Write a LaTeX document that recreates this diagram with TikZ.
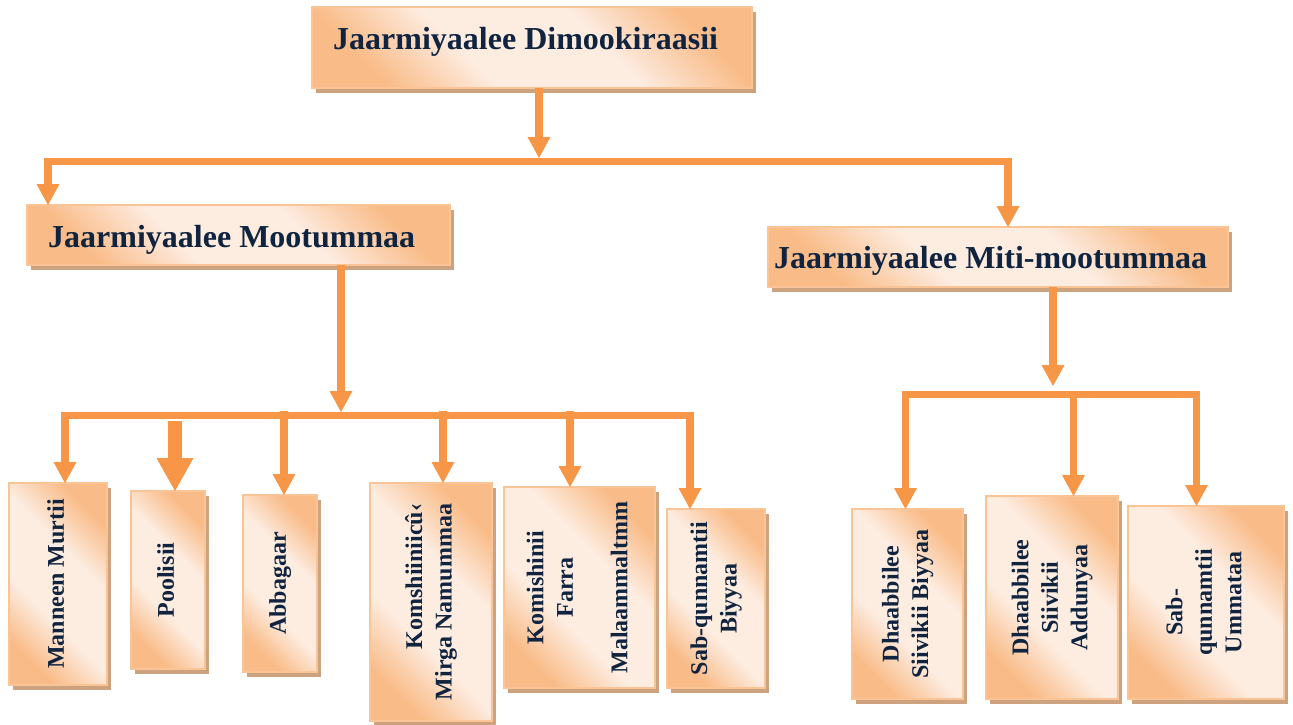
\documentclass[tikz,border=0pt]{standalone}
\usepackage{fontspec}
\setmainfont{Liberation Serif}
\usetikzlibrary{arrows.meta,shadows}
\definecolor{lineC}{RGB}{247,150,70}
\definecolor{borderC}{RGB}{250,196,150}
\definecolor{orangeF}{RGB}{249,187,135}
\definecolor{lightF}{RGB}{253,236,224}
\definecolor{shadowC}{RGB}{204,163,126}
\definecolor{textC}{RGB}{16,36,64}
\pgfdeclareverticalshading{boxshade}{100bp}{color(0bp)=(orangeF); color(25bp)=(orangeF); color(40bp)=(lightF); color(60bp)=(lightF); color(75bp)=(orangeF); color(100bp)=(orangeF)}
\newcommand{\vlab}[2][c]{\rotatebox{90}{\begin{tabular}{@{}#1@{}}#2\end{tabular}}}
\begin{document}
\begin{tikzpicture}[x=1pt,y=-1pt,
  >={Triangle[width=23pt,length=21pt,line width=0pt]},
  box/.style={draw=borderC, line width=2pt, shading=boxshade, shading angle=-45, inner sep=0pt, outer sep=0pt,
    drop shadow={shadow xshift=4pt, shadow yshift=-5pt, fill=shadowC, opacity=1},
    font=\fontsize{24}{29.5}\selectfont\bfseries, text=textC},
  head/.style={font=\fontsize{32}{38}\selectfont\bfseries, text=textC, inner sep=0pt, anchor=base west},
  conn/.style={draw=lineC, line width=7.5pt, line join=miter}
]
\fill[white] (0,0) rectangle (1293,725);
\useasboundingbox (0,0) rectangle (1293,725);

% top level
\node[box, minimum width=440pt, minimum height=81pt] (top) at (532,47.5) {};
\node[head] (t0) at (333,50) {Jaarmiyaalee Dimookiraasii};

% second level
\node[box, minimum width=423pt, minimum height=60pt] (L) at (238.5,235) {};
\node[head] (tL) at (48,247) {Jaarmiyaalee Mootummaa};
\node[box, minimum width=460pt, minimum height=60pt] (R) at (998,257) {};
\node[head] (tR) at (774,268) {Jaarmiyaalee Miti-mootummaa};

% third level, left group
\node[box, minimum width=98pt, minimum height=202pt] (c1) at (58,584) {\vlab{Manneen Murtii}};
\node[box, minimum width=74pt, minimum height=178pt] (c2) at (168,580) {\vlab{Poolisii}};
\node[box, minimum width=74pt, minimum height=177pt] (c3) at (280,583.5) {\vlab{Abbagaar}};
\node[box, minimum width=122pt, minimum height=238pt] (c4) at (431,602) {\vlab[r]{Komshiiniicû‹\\Mirga Namummaa}};
\node[box, minimum width=151pt, minimum height=201pt] (c5) at (579.5,587.5) {\vlab{Komishinii\\Farra\\[25pt]Malaammaltmm}};
\node[box, minimum width=98pt, minimum height=179pt] (c6) at (716,598.5) {\vlab{Sab-qunnamtii\\Biyyaa}};

% third level, right group
\node[box, minimum width=111pt, minimum height=190pt] (d1) at (907.5,604) {\vlab{Dhaabbilee\\Siivikii Biyyaa}};
\node[box, minimum width=132pt, minimum height=203pt] (d2) at (1052,597.5) {\vlab{Dhaabbilee\\Siivikii\\Addunyaa}};
\node[box, minimum width=156pt, minimum height=193pt] (d3) at (1206,602.5) {\vlab{Sab-\rule{19pt}{0pt}\\qunnamtii\\Ummataa}};

% connectors: level 1 -> 2
\draw[conn, ->] ([xshift=7pt]top.south) -- ++(0,70);
\draw[conn, <->] ([xshift=-190.5pt]L.north) -- ++(0,-43.5) -| ([xshift=10pt]R.north);

% left group
\draw[conn, ->] ([xshift=102.5pt]L.south) -- ++(0,147);
\draw[conn, <->] ([xshift=7pt]c1.north) -- ++(0,-67.5) -| ([xshift=-26pt]c6.north);
\draw[conn, line width=14pt, {Triangle[width=37pt,length=33pt,line width=0pt]}-] ([xshift=7pt]c2.north) -- ++(0,-70);
\draw[conn, <-] ([xshift=4pt]c3.north) -- ++(0,-84);
\draw[conn, <-] ([xshift=12pt]c4.north) -- ++(0,-72);
\draw[conn, <-] ([xshift=-9.5pt]c5.north) -- ++(0,-76);

% right group
\draw[conn, ->] ([xshift=55pt]R.south) -- ++(0,99);
\draw[conn, <->] ([xshift=-2pt]d1.north) -- ++(0,-114.5) -| ([xshift=-9.5pt]d3.north);
\draw[conn, <-] ([xshift=21.5pt]d2.north) -- ++(0,-105);
\end{tikzpicture}
\end{document}
